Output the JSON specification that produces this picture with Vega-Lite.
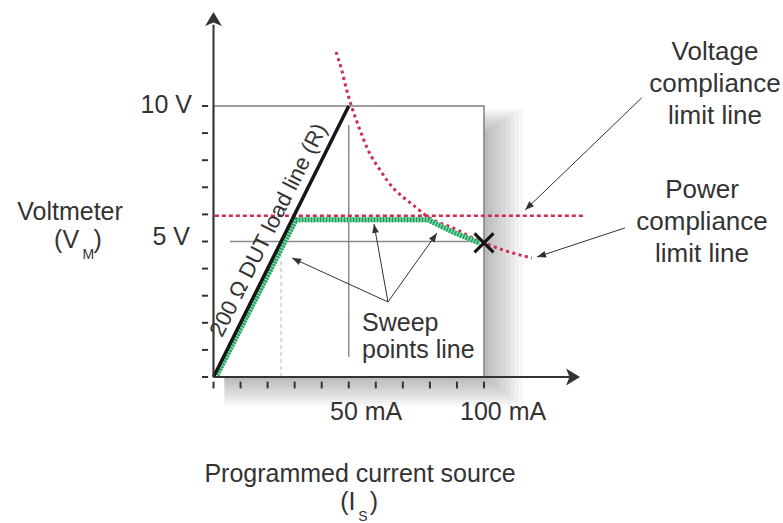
{
  "$schema": "https://vega.github.io/schema/vega-lite/v6.json",
  "width": 783,
  "height": 523,
  "autosize": {"type": "none"},
  "padding": 0,
  "background": "white",
  "config": {"view": {"stroke": null}, "text": {"font": "Liberation Sans", "color": "#333333"}},
  "datasets": {
    "shadow": [
      {"I": 4, "V": 9.1, "I2": 101.6, "V2": -0.12},
      {"I": 4, "V": 9.2, "I2": 103.2, "V2": -0.24},
      {"I": 4, "V": 9.3, "I2": 104.8, "V2": -0.36},
      {"I": 4, "V": 9.4, "I2": 106.4, "V2": -0.48},
      {"I": 4, "V": 9.5, "I2": 108.0, "V2": -0.6},
      {"I": 4, "V": 9.6, "I2": 109.6, "V2": -0.72},
      {"I": 4, "V": 9.7, "I2": 111.2, "V2": -0.84},
      {"I": 4, "V": 9.8, "I2": 112.8, "V2": -0.96},
      {"I": 4, "V": 9.9, "I2": 114.4, "V2": -1.08}
    ],
    "box": [{"I": 0, "V": 0, "I2": 100, "V2": 10}],
    "guides": [
      {"I": 50, "V": 0.74, "I2": 50, "V2": 9.3},
      {"I": 6.1, "V": 5, "I2": 100, "V2": 5}
    ],
    "dashguide": [{"I": 25, "V": 0, "I2": 25, "V2": 4.5}],
    "vlimit": [{"I": 0.5, "V": 5.95, "I2": 136.6, "V2": 5.95}],
    "power": [
      {"I": 45.29, "V": 11.99},
      {"I": 47.39, "V": 11.33},
      {"I": 49.24, "V": 10.59},
      {"I": 51.09, "V": 9.97},
      {"I": 54.16, "V": 9.11},
      {"I": 57.12, "V": 8.38},
      {"I": 61.55, "V": 7.64},
      {"I": 67.1, "V": 6.9},
      {"I": 70.06, "V": 6.64},
      {"I": 75.12, "V": 6.24},
      {"I": 79.3, "V": 5.9},
      {"I": 88.54, "V": 5.5},
      {"I": 97.41, "V": 5.06},
      {"I": 100.0, "V": 4.95},
      {"I": 107.0, "V": 4.69},
      {"I": 117.7, "V": 4.39}
    ],
    "sweep": [
      {"I": 1.3, "V": 0.07},
      {"I": 30.5, "V": 5.8},
      {"I": 79.3, "V": 5.8},
      {"I": 88.5, "V": 5.35},
      {"I": 98.5, "V": 4.94}
    ],
    "load": [{"I": 0, "V": 0}, {"I": 50, "V": 10}],
    "axes": [
      {"I": 0, "V": 0, "I2": 0, "V2": 13.0},
      {"I": 0, "V": 0, "I2": 134, "V2": 0}
    ],
    "yarrow": [{"I": 0, "V": 13.47}],
    "xarrow": [{"I": 135.5, "V": 0}],
    "ticks": [
      {"I": -4.25, "I2": -2.0, "V": 0, "V2": 0},
      {"I": -4.25, "I2": -2.0, "V": 1, "V2": 1},
      {"I": -4.25, "I2": -2.0, "V": 2, "V2": 2},
      {"I": -4.25, "I2": -2.0, "V": 3, "V2": 3},
      {"I": -4.25, "I2": -2.0, "V": 4, "V2": 4},
      {"I": -4.25, "I2": -2.0, "V": 5, "V2": 5},
      {"I": -4.25, "I2": -2.0, "V": 6, "V2": 6},
      {"I": -4.25, "I2": -2.0, "V": 7, "V2": 7},
      {"I": -4.25, "I2": -2.0, "V": 8, "V2": 8},
      {"I": -4.25, "I2": -2.0, "V": 9, "V2": 9},
      {"I": -4.25, "I2": -2.0, "V": 10, "V2": 10},
      {"I": 0, "I2": 0, "V": -0.17, "V2": -0.42},
      {"I": 10, "I2": 10, "V": -0.17, "V2": -0.42},
      {"I": 20, "I2": 20, "V": -0.17, "V2": -0.42},
      {"I": 30, "I2": 30, "V": -0.17, "V2": -0.42},
      {"I": 40, "I2": 40, "V": -0.17, "V2": -0.42},
      {"I": 50, "I2": 50, "V": -0.17, "V2": -0.42},
      {"I": 60, "I2": 60, "V": -0.17, "V2": -0.42},
      {"I": 70, "I2": 70, "V": -0.17, "V2": -0.42},
      {"I": 80, "I2": 80, "V": -0.17, "V2": -0.42},
      {"I": 90, "I2": 90, "V": -0.17, "V2": -0.42},
      {"I": 100, "I2": 100, "V": -0.17, "V2": -0.42}
    ],
    "arrows": [
      {"I0": 64.5, "V0": 2.77, "I": 29.02, "V": 4.39},
      {"I0": 64.5, "V0": 2.77, "I": 59.33, "V": 5.65},
      {"I0": 64.5, "V0": 2.77, "I": 82.62, "V": 5.31},
      {"I0": 158.3, "V0": 10.3, "I": 115.2, "V": 6.16},
      {"I0": 152.1, "V0": 5.5, "I": 119.6, "V": 4.43}
    ],
    "xmark": [{"I": 100, "V": 4.95}],
    "tcenter": [
      {"I": -53.05, "V": 5.8, "t": "Voltmeter"},
      {"I": 54.16, "V": -3.87, "t": "Programmed current source"}
    ],
    "tright": [
      {"I": 185.4, "V": 11.7, "t": "Voltage"},
      {"I": 185.4, "V": 10.52, "t": "compliance"},
      {"I": 185.4, "V": 9.34, "t": "limit line"},
      {"I": 180.6, "V": 6.61, "t": "Power"},
      {"I": 180.6, "V": 5.42, "t": "compliance"},
      {"I": 180.6, "V": 4.24, "t": "limit line"}
    ],
    "talignr": [
      {"I": -7.95, "V": 9.74, "t": "10 V"},
      {"I": -8.69, "V": 4.87, "t": "5 V"},
      {"I": -49.7, "V": 4.76, "t": "(V"},
      {"I": 52.5, "V": -4.91, "t": "(I"}
    ],
    "talignl": [
      {"I": 43.07, "V": -1.59, "t": "50 mA"},
      {"I": 91.13, "V": -1.59, "t": "100 mA"},
      {"I": 54.9, "V": 1.7, "t": "Sweep"},
      {"I": 54.9, "V": 0.7, "t": "points line"},
      {"I": -44.4, "V": 4.76, "t": ")"},
      {"I": 57.8, "V": -4.91, "t": ")"}
    ],
    "tsub": [
      {"I": -48.4, "V": 4.34, "t": "M"},
      {"I": 53.5, "V": -5.3, "t": "S"}
    ],
    "tload": [{"I": 20.3, "V": 5.42, "t": "200 Ω DUT load line (R)"}]
  },
  "encoding": {
    "x": {"field": "I", "type": "quantitative", "scale": {"domain": [-78.93, 210.54], "nice": false, "zero": false}, "axis": null},
    "y": {"field": "V", "type": "quantitative", "scale": {"domain": [-5.387, 13.911], "nice": false, "zero": false}, "axis": null}
  },
  "layer": [
    {"data": {"name": "shadow"}, "mark": {"type": "rect", "color": "#000000", "opacity": 0.03},
     "encoding": {"x2": {"field": "I2"}, "y2": {"field": "V2"}}},
    {"data": {"name": "box"}, "mark": {"type": "rect", "fill": "#ffffff", "stroke": "#808080", "strokeWidth": 1.5},
     "encoding": {"x2": {"field": "I2"}, "y2": {"field": "V2"}}},
    {"data": {"name": "guides"}, "mark": {"type": "rule", "color": "#8c8c8c", "strokeWidth": 1.5},
     "encoding": {"x2": {"field": "I2"}, "y2": {"field": "V2"}}},
    {"data": {"name": "dashguide"}, "mark": {"type": "rule", "color": "#b5b5b5", "strokeWidth": 1, "strokeDash": [4, 3]},
     "encoding": {"x2": {"field": "I2"}, "y2": {"field": "V2"}}},
    {"data": {"name": "vlimit"}, "mark": {"type": "rule", "color": "#d22a4e", "strokeWidth": 2.5, "strokeDash": [4, 3]},
     "encoding": {"x2": {"field": "I2"}, "y2": {"field": "V2"}}},
    {"data": {"name": "power"}, "mark": {"type": "line", "color": "#d22a4e", "strokeWidth": 3, "strokeDash": [3, 3.5], "interpolate": "monotone"},
     "encoding": {}},
    {"data": {"name": "sweep"}, "mark": {"type": "line", "color": "#7fdcaa", "strokeWidth": 5},
     "encoding": {}},
    {"data": {"name": "sweep"}, "mark": {"type": "line", "color": "#1f9a5a", "strokeWidth": 5, "strokeDash": [1.5, 1.5]},
     "encoding": {}},
    {"data": {"name": "load"}, "mark": {"type": "line", "color": "#161616", "strokeWidth": 3.5},
     "encoding": {}},
    {"data": {"name": "axes"}, "mark": {"type": "rule", "color": "#333333", "strokeWidth": 2},
     "encoding": {"x2": {"field": "I2"}, "y2": {"field": "V2"}}},
    {"data": {"name": "yarrow"}, "mark": {"type": "point", "shape": "M0,0L-0.6,1L0,0.75L0.6,1Z", "size": 784, "filled": true, "color": "#333333", "opacity": 1, "angle": 0},
     "encoding": {}},
    {"data": {"name": "xarrow"}, "mark": {"type": "point", "shape": "M0,0L-0.6,1L0,0.75L0.6,1Z", "size": 784, "filled": true, "color": "#333333", "opacity": 1, "angle": 90},
     "encoding": {}},
    {"data": {"name": "ticks"}, "mark": {"type": "rule", "color": "#333333", "strokeWidth": 2},
     "encoding": {"x2": {"field": "I2"}, "y2": {"field": "V2"}}},
    {"data": {"name": "arrows"}, "mark": {"type": "rule", "color": "#333333", "strokeWidth": 1},
     "encoding": {"x2": {"field": "I0"}, "y2": {"field": "V0"}}},
    {"data": {"name": "arrows"},
     "transform": [{"calculate": "atan2((datum.I - datum.I0) * 2.705, (datum.V - datum.V0) * 27.1) * 180 / PI", "as": "ang"}],
     "mark": {"type": "point", "shape": "M0,0L-0.38,1L0.38,1Z", "size": 324, "filled": true, "color": "#333333", "opacity": 1},
     "encoding": {"angle": {"field": "ang", "type": "quantitative", "scale": null}}},
    {"data": {"name": "xmark"}, "mark": {"type": "point", "shape": "M-1,-1L1,1M1,-1L-1,1", "size": 361, "filled": false, "color": "#111111", "strokeWidth": 3, "opacity": 1},
     "encoding": {}},
    {"data": {"name": "tcenter"}, "mark": {"type": "text", "fontSize": 25, "align": "center", "baseline": "alphabetic"},
     "encoding": {"text": {"field": "t"}}},
    {"data": {"name": "tright"}, "mark": {"type": "text", "fontSize": 26, "align": "center", "baseline": "alphabetic"},
     "encoding": {"text": {"field": "t"}}},
    {"data": {"name": "talignr"}, "mark": {"type": "text", "fontSize": 25, "align": "right", "baseline": "alphabetic"},
     "encoding": {"text": {"field": "t"}}},
    {"data": {"name": "talignl"}, "mark": {"type": "text", "fontSize": 25, "align": "left", "baseline": "alphabetic"},
     "encoding": {"text": {"field": "t"}}},
    {"data": {"name": "tsub"}, "mark": {"type": "text", "fontSize": 14, "align": "left", "baseline": "alphabetic"},
     "encoding": {"text": {"field": "t"}}},
    {"data": {"name": "tload"}, "mark": {"type": "text", "fontSize": 22, "align": "center", "baseline": "middle", "angle": -63.4},
     "encoding": {"text": {"field": "t"}}}
  ]
}
